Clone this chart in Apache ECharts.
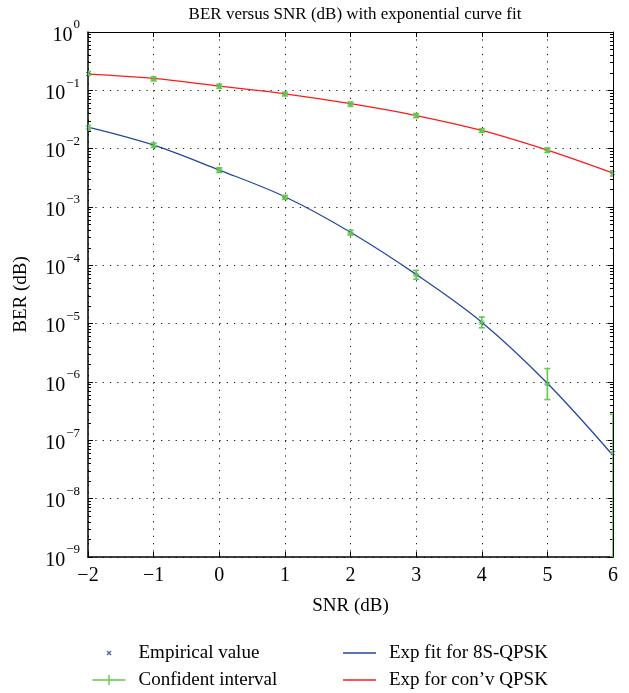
<!DOCTYPE html>
<html>
<head>
    <meta charset="utf-8">
    <title>BER versus SNR</title>
    <script src="https://cdn.jsdelivr.net/npm/echarts@6/dist/echarts.min.js"></script>
    <style>
        *{ margin: 0; padding: 0; }
        html,body{ width: 100%; height: 100%; overflow: hidden; background: #fff; }
        #chart{ width: 629px; height: 693px; }
    </style>
</head>
<body>
<div id="chart"></div>
<script>
    // SNR (dB)
    let snr = [-2, -1, 0, 1, 2, 3, 4, 5, 6];
    // exponential fits
    let fit8s = [0.0234, 0.0115, 0.0043, 0.0015, 3.7e-4, 7.0e-5, 1.06e-5, 9.5e-7, 5.5e-8];
    let fitConv = [0.19, 0.16, 0.118, 0.087, 0.059, 0.037, 0.0205, 0.0094, 0.0038];
    // empirical values
    let emp8s = [0.0230, 0.0113, 0.0043, 0.00147, 3.6e-4, 6.9e-5, 1.05e-5, 9.2e-7, 6e-8];
    let empConv = [0.19, 0.155, 0.117, 0.086, 0.058, 0.037, 0.0205, 0.0094, 0.0038];
    // confidence intervals
    let ciLow8s = [0.021, 0.0105, 0.0039, 0.00135, 3.3e-4, 5.8e-5, 8.5e-6, 5e-7, 1e-9];
    let ciHigh8s = [0.025, 0.0125, 0.0047, 0.00158, 4.0e-4, 8.2e-5, 1.3e-5, 1.7e-6, 2.8e-7];
    let ciLowConv = [0.18, 0.145, 0.108, 0.080, 0.053, 0.034, 0.019, 0.0086, 0.0034];
    let ciHighConv = [0.21, 0.17, 0.127, 0.093, 0.063, 0.040, 0.022, 0.0103, 0.0042];

    const GREEN = '#62c94a';
    const BLUE = '#2346a0';
    const RED = '#ff1a1a';
    const FONT = '"Liberation Serif", "DejaVu Serif", serif';

    let pts = (xs, ys) => xs.map((x, i) => [x, ys[i]]);
    let ciData = [];
    snr.forEach((x, i) => {
        ciData.push([x, ciLow8s[i], ciHigh8s[i], emp8s[i]]);
        ciData.push([x, ciLowConv[i], ciHighConv[i], empConv[i]]);
    });

    let chart = echarts.init(document.getElementById('chart'));

    let dotted = { show: true, lineStyle: { color: '#222', width: 1, type: [1.3, 6] } };
    let sup = function (value) {
        let e = Math.round(Math.log10(value));
        return '{b|10}{s|' + (e < 0 ? '\u2212' + (-e) : e) + '}';
    };
    let rich = {
        b: { fontFamily: FONT, fontSize: 20, color: '#000', verticalAlign: 'bottom', padding: [7, 0, 0, 0] },
        s: { fontFamily: FONT, fontSize: 13, color: '#000', verticalAlign: 'top', padding: [0, 0, 9, 1] }
    };
    let nameText = { fontFamily: FONT, fontSize: 19, color: '#000' };
    let legendText = { fontFamily: FONT, fontSize: 19, color: '#000', lineHeight: 22, padding: [0, 0, 0, 8] };

    let crossIcon = 'path://M0,0L10,10M10,0L0,10';
    let option = {
        animation: false,
        backgroundColor: '#fff',
        title: {
            text: 'BER versus SNR (dB) with exponential curve fit',
            left: 350, top: 1, textAlign: 'center',
            textStyle: { fontFamily: FONT, fontSize: 17, fontWeight: 'normal', color: '#000' }
        },
        grid: { left: 88, right: 16, top: 32, bottom: 136 },
        legend: [{
            orient: 'vertical', left: 90, top: 642, height: 51, padding: 0, itemGap: 5,
            itemWidth: 33, itemHeight: 14, textStyle: legendText,
            data: [
                { name: 'Empirical value', icon: 'path://M0,0M33,14M14.5,5L18.5,9M18.5,5L14.5,9', itemStyle: { color: 'none', borderColor: BLUE, borderWidth: 1.5 } },
                { name: 'Confident interval', icon: 'path://M0,6.3H33V7.7H0ZM15.8,2H17.2V12H15.8Z', itemStyle: { color: GREEN } }
            ]
        }, {
            orient: 'vertical', left: 343, top: 642, height: 51, padding: 0, itemGap: 5,
            itemWidth: 33, itemHeight: 14, textStyle: legendText,
            data: [
                { name: 'Exp fit for 8S-QPSK', icon: 'path://M0,6.3H33V7.7H0Z' },
                { name: 'Exp for con\u2019v QPSK', icon: 'path://M0,6.3H33V7.7H0Z' }
            ]
        }],
        xAxis: [{
            type: 'value', min: -2, max: 6, interval: 1,
            name: 'SNR (dB)', nameLocation: 'middle', nameGap: 40,
            nameTextStyle: nameText,
            axisLine: { onZero: false, lineStyle: { color: '#000', width: 1.5 } },
            axisTick: { inside: true, length: 5, lineStyle: { color: '#000' } },
            axisLabel: {
                fontFamily: FONT, fontSize: 20, color: '#000', margin: 9,
                formatter: v => (v < 0 ? '\u2212' + (-v) : '' + v)
            },
            splitLine: dotted
        }, {
            type: 'value', min: -2, max: 6, interval: 1, position: 'top',
            axisLine: { show: true, onZero: false, lineStyle: { color: '#000', width: 1 } },
            axisTick: { inside: true, length: 5, lineStyle: { color: '#000' } },
            axisLabel: { show: false }, splitLine: { show: false }
        }],
        yAxis: [{
            type: 'log', logBase: 10, min: 1e-9, max: 1, splitNumber: 9,
            name: 'BER (dB)', nameLocation: 'middle', nameGap: 57,
            nameTextStyle: nameText,
            axisLine: { show: true, onZero: false, lineStyle: { color: '#000', width: 1.5 } },
            axisTick: { inside: true, length: 5, lineStyle: { color: '#000' } },
            minorTick: { show: true, splitNumber: 9, length: 3, lineStyle: { color: '#000' } },
            axisLabel: { formatter: sup, rich: rich, margin: 8 },
            splitLine: dotted
        }, {
            type: 'log', logBase: 10, min: 1e-9, max: 1, splitNumber: 9, position: 'right',
            axisLine: { show: true, onZero: false, lineStyle: { color: '#000', width: 1 } },
            axisTick: { inside: true, length: 5, lineStyle: { color: '#000' } },
            minorTick: { show: true, splitNumber: 9, length: 3, lineStyle: { color: '#000' } },
            axisLabel: { show: false }, splitLine: { show: false }
        }],
        series: [{
            name: 'Exp fit for 8S-QPSK', type: 'line', smooth: 0.35,
            data: pts(snr, fit8s), showSymbol: false, symbol: 'none',
            itemStyle: { color: BLUE }, lineStyle: { color: BLUE, width: 1.3 }, z: 3
        }, {
            name: 'Exp for con\u2019v QPSK', type: 'line', smooth: 0.35,
            data: pts(snr, fitConv), showSymbol: false, symbol: 'none',
            itemStyle: { color: RED }, lineStyle: { color: RED, width: 1.3 }, z: 3
        }, {
            name: 'Empirical value', type: 'scatter',
            data: pts(snr, emp8s).concat(pts(snr, empConv)),
            symbol: crossIcon, symbolSize: 4,
            itemStyle: { color: 'none', borderColor: BLUE, borderWidth: 1 }, z: 2
        }, {
            name: 'Confident interval', type: 'custom', clip: true,
            data: ciData, itemStyle: { color: GREEN }, z: 4,
            encode: { x: 0, y: [1, 2] },
            renderItem: function (params, api) {
                let x = api.value(0);
                let lo = api.coord([x, api.value(1)]);
                let hi = api.coord([x, api.value(2)]);
                let c = api.coord([x, api.value(3)]);
                let st = { stroke: GREEN, lineWidth: 1.6 };
                let hline = (p, w) => ({ type: 'line', shape: { x1: p[0] - w, y1: p[1], x2: p[0] + w, y2: p[1] }, style: st });
                return {
                    type: 'group',
                    children: [
                        { type: 'line', shape: { x1: lo[0], y1: lo[1], x2: hi[0], y2: hi[1] }, style: st },
                        hline(lo, 3), hline(hi, 3), hline(c, 3)
                    ]
                };
            }
        }]
    };
    chart.setOption(option);
</script>
</body>
</html>
